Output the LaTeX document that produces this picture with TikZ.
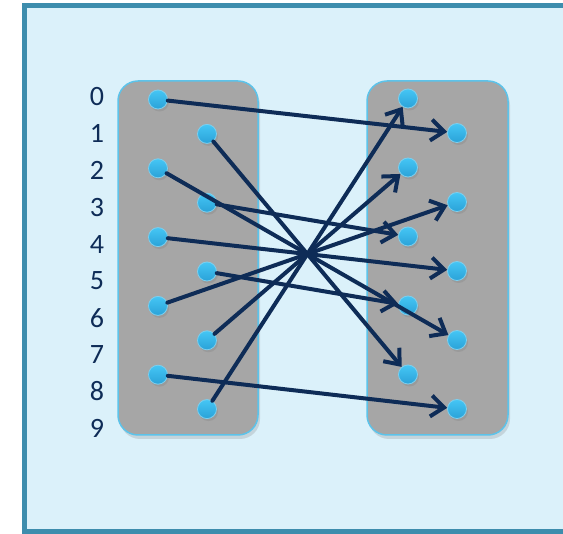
\documentclass[tikz,border=0pt]{standalone}
\usepackage{fontspec}
\setmainfont{Carlito}
\usetikzlibrary{arrows.meta,shadows}
\definecolor{fond}{HTML}{DBF1FA}
\definecolor{cadre}{HTML}{3D8DAD}
\definecolor{marine}{HTML}{0E2C57}
\definecolor{bleu}{HTML}{45C6F5}
\definecolor{bleufonce}{HTML}{2AA2D8}
\definecolor{bord}{HTML}{5CC3EA}
\definecolor{gris}{HTML}{A6A6A6}

\begin{document}
\begin{tikzpicture}[x=1pt, y=-1pt,
  boite/.style={fill=gris, draw=bord, line width=1.5pt, rounded corners=20pt,
    drop shadow={shadow xshift=2pt, shadow yshift=-4pt, opacity=0.25}},
  point/.style={circle, minimum size=19pt, inner sep=0pt, top color=bleu,
    bottom color=bleufonce, draw=bord!80!white, line width=0.8pt,
    drop shadow={shadow xshift=1.5pt, shadow yshift=-2.5pt, opacity=0.3}},
  fleche/.style={draw=marine, line width=4pt, line cap=round,
    -{Straight Barb[length=13pt, width=21pt]}},
  chiffre/.style={text=marine, font=\fontsize{28}{30}\selectfont}]
  \useasboundingbox (0,0) rectangle (563,534);
  % cadre, ouvert a droite
  \fill[fond] (24.5,5.5) rectangle (563,531.5);
  \draw[cadre, line width=5pt] (563,5.5) -- (24.5,5.5) -- (24.5,531.5) -- (563,531.5);
  % les deux boites
  \draw[boite] (118,81) rectangle (258,435);
  \draw[boite] (367,81) rectangle (508,435);
  % points et numeros
  \foreach \i in {0,...,9} {
    \pgfmathsetmacro{\dx}{mod(\i,2)*49}
    \node[point] (L\i) at ({158+\dx}, {99.5+34.4*\i}) {};
    \node[point] (R\i) at ({408+\dx}, {98.5+34.5*\i}) {};
    \node[chiffre] (n\i) at (97, {97+36.8*\i}) {\i};
  }
  % permutation
  \foreach \a/\b in {0/1,1/8,2/7,3/4,4/5,5/6,6/3,7/2,8/9,9/0} {
    \draw[fleche] (L\a) -- (R\b);
  }
\end{tikzpicture}
\end{document}
